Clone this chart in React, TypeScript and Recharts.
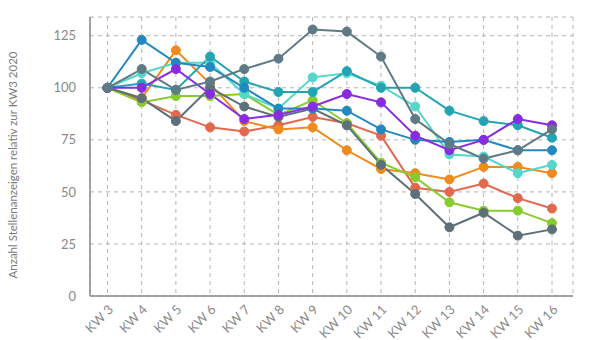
import React from 'react';
import { LineChart, Line, XAxis, YAxis, CartesianGrid } from 'recharts';

const weeks = ['KW 3', 'KW 4', 'KW 5', 'KW 6', 'KW 7', 'KW 8', 'KW 9', 'KW 10', 'KW 11', 'KW 12', 'KW 13', 'KW 14', 'KW 15', 'KW 16'];
const blue = [100, 123, 112, 110, 100, 90, 90, 89, 80, 75, 74, 75, 70, 70];
const teal = [100, 102, 99, 115, 103, 98, 98, 108, 100, 100, 89, 84, 82, 76];
const turquoise = [100, 107, 112, 112, 97, 90, 105, 107, 101, 91, 68, 67, 59, 63];
const purple = [100, 100, 109, 97, 85, 87, 91, 97, 93, 77, 70, 75, 85, 82];
const slate = [100, 109, 99, 103, 109, 114, 128, 127, 115, 85, 73, 66, 70, 80];
const orange = [100, 95, 118, 102, 84, 80, 81, 70, 61, 59, 56, 62, 62, 59];
const salmon = [100, 94, 87, 81, 79, 82, 86, 83, 77, 52, 50, 54, 47, 42];
const green = [100, 93, 96, 96, 97, 87, 94, 83, 64, 57, 45, 41, 41, 35];
const darkGray = [100, 95, 84, 100, 91, 86, 90, 82, 63, 49, 33, 40, 29, 32];
const yTicks = [0, 25, 50, 75, 100, 125];
const yLabel = 'Anzahl Stellenanzeigen relativ zur KW3 2020';

const seriesDefs = [
  { key: 'salmon', values: salmon, color: '#e2694e' },
  { key: 'orange', values: orange, color: '#f08a1e' },
  { key: 'green', values: green, color: '#86cc2e' },
  { key: 'darkGray', values: darkGray, color: '#5d7079' },
  { key: 'turquoise', values: turquoise, color: '#55d6c9' },
  { key: 'teal', values: teal, color: '#22a4b3' },
  { key: 'blue', values: blue, color: '#2288c0' },
  { key: 'purple', values: purple, color: '#8a2be0' },
  { key: 'slate', values: slate, color: '#5f7a84' },
];

const data = weeks.map((w, i) => {
  const row: Record<string, string | number> = { week: w };
  seriesDefs.forEach((s) => {
    row[s.key] = s.values[i];
  });
  return row;
});

const font = 'Lato, "Open Sans", sans-serif';

export default function App() {
  return (
    <div style={{ position: 'absolute', left: 0, top: 0, width: 600, height: 340, background: '#fff' }}>
      <LineChart width={600} height={340} data={data} margin={{ top: 17, right: 27, left: 0, bottom: 0 }}>
        <CartesianGrid stroke="#b4b4b4" strokeDasharray="4 4" />
        <XAxis
          dataKey="week"
          padding={{ left: 17.5, right: 21 }}
          height={44}
          tickLine={false}
          axisLine={{ stroke: '#8a8a8a', strokeWidth: 1.5 }}
          interval={0}
          tick={{ fill: '#8a8a8a', fontSize: 13, fontFamily: font, angle: -45, textAnchor: 'end' }}
          tickMargin={2}
        />
        <YAxis
          width={90}
          domain={[0, 134]}
          ticks={yTicks}
          tickLine={false}
          axisLine={{ stroke: '#8a8a8a', strokeWidth: 1.5 }}
          tick={{ fill: '#8a8a8a', fontSize: 13, fontFamily: font }}
          tickMargin={8}
          label={{
            content: () => (
              <text
                x={14}
                y={165}
                transform="rotate(-90 14 165)"
                textAnchor="middle"
                dominantBaseline="middle"
                fill="#7a7a7a"
                fontSize={11.5}
                fontFamily={font}
              >
                {yLabel}
              </text>
            ),
          }}
        />
        {seriesDefs.map((s) => (
          <Line
            key={s.key}
            dataKey={s.key}
            stroke={s.color}
            strokeWidth={2}
            dot={{ r: 4.5, fill: s.color, stroke: s.color, strokeWidth: 1 }}
            activeDot={false}
            isAnimationActive={false}
          />
        ))}
      </LineChart>
    </div>
  );
}
